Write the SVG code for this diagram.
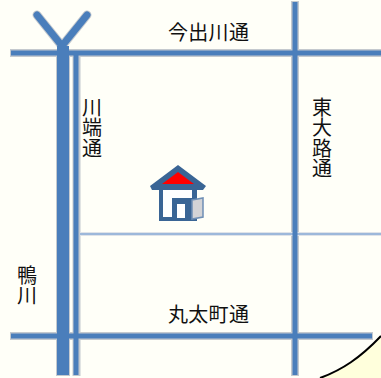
<svg xmlns="http://www.w3.org/2000/svg" width="381" height="378" viewBox="0 0 381 378">
<style>
.h{fill:none;stroke:#c4c9ce}
.b{fill:none;stroke:#4a7ebb}
text{font-family:"Noto Sans CJK JP","Noto Sans CJK SC",sans-serif;font-size:20px;fill:#111}
.t{letter-spacing:.3px}
.v{writing-mode:vertical-rl;letter-spacing:.5px}
</style>
<rect width="381" height="378" fill="#fffff8"/>
<path d="M381 336C360 358 342 370 320 378H381Z" fill="#ffffdc"/>
<path d="M381 336C360 358 342 370 320 378" fill="none" stroke="#000" stroke-width="2"/>
<g id="roads">
<path class="h" stroke-width="8" d="M10 53H381M10 336H373M295 1V376M76.500 53V376"/>
<path class="h" stroke-width="14" d="M63 50V376"/>
<path fill="#dfe3e8" d="M80 232h301v4H80z"/>
<path fill="#9db8da" d="M80 233h301v2H80z"/>
<path class="b" stroke-width="5" d="M11 53H381M11 336H372M295 2V375M76 54V375"/>
<path class="h" stroke-width="9" stroke-linecap="round" d="M37 15L62 46L87 15"/>
<path class="b" stroke-width="7" stroke-linecap="round" d="M37 15L62 46L87 15"/>
<path class="b" stroke-width="12" d="M63 46V375"/>
</g>
<g id="house">
<path fill="#3a6595" d="M150 186L178 165L206 186L203 190H197V221H159V190H152Z"/>
<path fill="#fff" d="M163 190H192V199H176V217H163Z"/>
<path fill="#f00" d="M162 184L178 172L194 184Z"/>
<path fill="#3a6595" d="M172 198H194V221H172Z"/>
<path fill="#fff" d="M177 204H185V218H177Z"/>
<path fill="#d3d3d6" stroke="#6f8fb5" stroke-width="1.500" d="M192 200L203 198V217L192 219Z"/>
</g>
<g id="labels">
<text class="t" x="168" y="40">今出川通</text>
<text class="t" x="168" y="322">丸太町通</text>
<text class="v" x="92" y="97">川端通</text>
<text class="v" x="322" y="97">東大路通</text>
<text class="v" x="27" y="265">鴨川</text>
</g>
</svg>
